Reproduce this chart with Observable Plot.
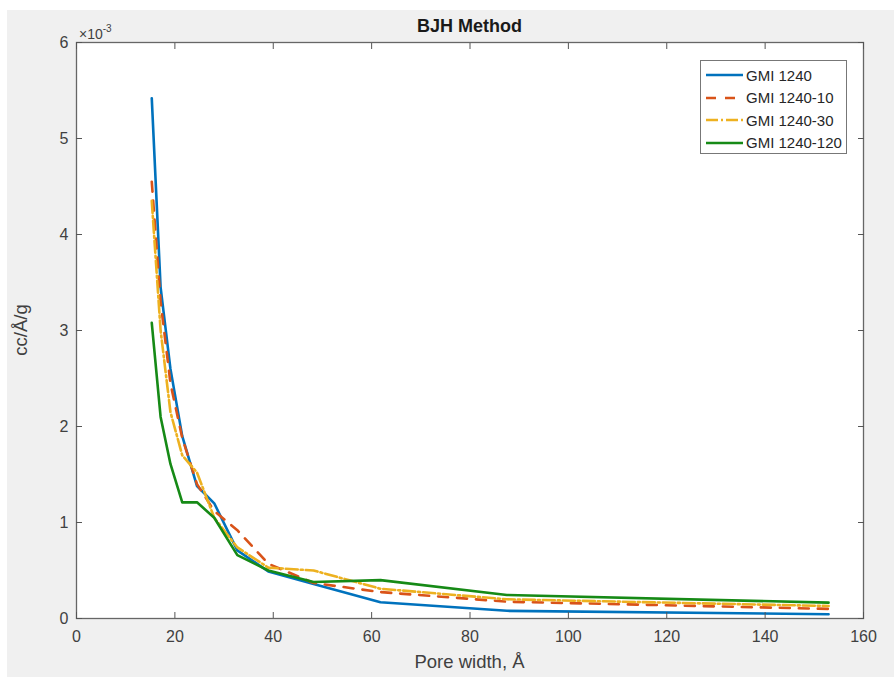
<!DOCTYPE html>
<html><head><meta charset="utf-8">
<script src="https://cdn.jsdelivr.net/npm/d3@7"></script>
<script src="https://cdn.jsdelivr.net/npm/@observablehq/plot@0.6"></script>
<style>
html,body{margin:0;padding:0;background:#fff;width:894px;height:677px;overflow:hidden;}
#wrap{position:relative;width:894px;height:677px;font-family:"Liberation Sans",Arial,sans-serif;}
#bg{position:absolute;left:7px;top:10px;width:887px;height:667px;background:#f0f0f0;}
#chart{position:absolute;left:0;top:0;}
.txt{position:absolute;color:#404040;white-space:nowrap;}
#title{left:0;width:939px;top:16px;text-align:center;font-weight:bold;font-size:18px;color:#1a1a1a;}
#xlabel{left:0;width:939px;top:651px;text-align:center;font-size:18.5px;}
#ylabel{left:21px;top:330px;font-size:18.5px;transform:translate(-50%,-50%) rotate(-90deg);}
#expo{left:79px;top:24px;font-size:14px;}
#expo sup{font-size:10px;position:relative;top:-1px;}
#legend{position:absolute;left:700px;top:60px;width:145px;height:92px;background:#fff;border:1px solid #777;}
.row{position:absolute;left:5px;height:20px;display:flex;align-items:center;font-size:15px;white-space:nowrap;color:#262626;}
.row svg{margin-right:3px;flex:none;}
</style></head><body>
<div id="wrap">
<div id="bg"></div>
<div id="chart"></div>
<div class="txt" id="title">BJH Method</div>
<div class="txt" id="xlabel">Pore width, Å</div>
<div class="txt" id="ylabel">cc/Å/g</div>
<div class="txt" id="expo">×10<sup>-3</sup></div>
<div id="legend"></div>
</div>
<script>
// Pore width (Å)
const poreWidth = [15.3, 17.1, 19.1, 21.5, 24.5, 28.0, 32.7, 39.0, 48.2, 61.8, 87.5, 152.9];
// dV/dw (×10^-3 cc/Å/g)
const gmi1240     = [5.42, 3.45, 2.60, 1.90, 1.38, 1.20, 0.71, 0.49, 0.36, 0.17, 0.08, 0.045];
const gmi1240_10  = [4.55, 3.30, 2.45, 1.88, 1.40, 1.12, 0.92, 0.57, 0.37, 0.275, 0.175, 0.10];
const gmi1240_30  = [4.35, 3.00, 2.15, 1.70, 1.52, 1.05, 0.74, 0.53, 0.50, 0.31, 0.20, 0.13];
const gmi1240_120 = [3.08, 2.10, 1.61, 1.21, 1.21, 1.05, 0.66, 0.50, 0.38, 0.40, 0.245, 0.165];

const seriesNames = ["GMI 1240", "GMI 1240-10", "GMI 1240-30", "GMI 1240-120"];
const seriesValues = [gmi1240, gmi1240_10, gmi1240_30, gmi1240_120];
const seriesColors = ["#0072BD", "#D95319", "#EDB120", "#168a16"];
const seriesDash = [null, "10,9", "12,3,2,3", null];

const xTicks = [0, 20, 40, 60, 80, 100, 120, 140, 160];
const yTicks = [0, 1, 2, 3, 4, 5, 6];

const lines = seriesValues.map((vals, s) =>
  Plot.line(poreWidth.map((x, i) => ({x, y: vals[i]})), {
    x: "x", y: "y", stroke: seriesColors[s], strokeWidth: 2.6,
    strokeDasharray: seriesDash[s] || undefined, strokeLinejoin: "round"
  })
);

const chart = Plot.plot({
  width: 894, height: 677,
  marginLeft: 76, marginRight: 31, marginTop: 42, marginBottom: 59,
  style: {background: "transparent", fontFamily: "'Liberation Sans', Arial, sans-serif", fontSize: "16px", color: "#404040"},
  x: {domain: [0, 160]},
  y: {domain: [0, 6]},
  marks: [
    Plot.frame({fill: "white", stroke: null}),
    ...lines,
    Plot.frame({stroke: "#666", strokeWidth: 1.3}),
    Plot.axisX({ticks: xTicks, tickSize: -6, tickPadding: 18, tickFormat: d3.format("d"), label: null, stroke: "#555"}),
    Plot.axisX({anchor: "top", ticks: xTicks, tickSize: -6, tickFormat: () => "", label: null, stroke: "#555"}),
    Plot.axisY({ticks: yTicks, tickSize: -6, tickPadding: 14, tickFormat: d3.format("d"), label: null, stroke: "#555"}),
    Plot.axisY({anchor: "right", ticks: yTicks, tickSize: -6, tickFormat: () => "", label: null, stroke: "#555"})
  ]
});
document.getElementById("chart").append(chart);

const leg = document.getElementById("legend");
seriesNames.forEach((name, s) => {
  const row = document.createElement("div");
  row.className = "row";
  row.style.top = (4 + s * 22.5) + "px";
  const dash = seriesDash[s] ? `stroke-dasharray="${seriesDash[s]}"` : "";
  row.innerHTML = `<svg width="37" height="6"><line x1="0" y1="3" x2="37" y2="3" stroke="${seriesColors[s]}" stroke-width="2.6" ${dash}/></svg><span>${name}</span>`;
  leg.append(row);
});
</script>
</body></html>
